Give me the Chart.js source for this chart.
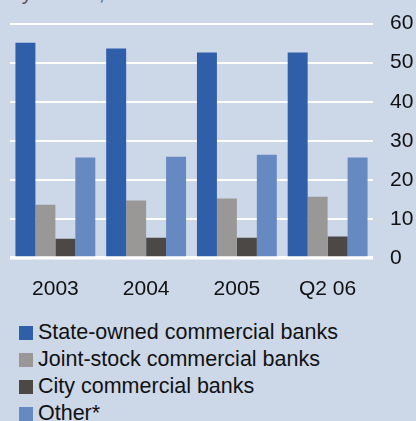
<!DOCTYPE html>
<html>
<head>
<meta charset="utf-8">
<script src="https://cdn.jsdelivr.net/npm/chart.js@4"></script>
<style>
    body { margin: 0; background: #ccd7e8; font-family: "Liberation Sans", Arial, sans-serif; overflow: hidden; }
    #wrap { position: relative; width: 416px; height: 421px; overflow: hidden; }
    #subtitle { position: absolute; left: 10px; top: -19px; font-size: 21px; color: #555; white-space: nowrap; }
    #chartBox { position: absolute; left: 0; top: -6px; width: 416px; height: 311px; }
    #legend { position: absolute; left: 19px; top: 319px; }
    .item { height: 27px; display: flex; align-items: center; font-size: 21.5px; color: #111; }
    .box { width: 14px; height: 14px; margin-right: 5px; }
</style>
</head>
<body>
<div id="wrap">
    <div id="subtitle">by assets, in % of total</div>
    <div id="chartBox"><canvas id="myBarChart"></canvas></div>
    <div id="legend"></div>
</div>
<script>
    // Datos
    const periods = ['2003', '2004', '2005', 'Q2 06'];
    const seriesNames = ['State-owned commercial banks', 'Joint-stock commercial banks', 'City commercial banks', 'Other*'];
    const stateOwned = [55.1, 53.6, 52.6, 52.6];
    const jointStock = [13.6, 14.7, 15.2, 15.7];
    const cityBanks = [4.9, 5.2, 5.2, 5.5];
    const other = [25.7, 25.9, 26.4, 25.7];
    const colors = ['#2f5fa9', '#999896', '#4c4846', '#6689c1'];

    const ctx = document.getElementById('myBarChart').getContext('2d');
    const allSeries = [stateOwned, jointStock, cityBanks, other];

    let myBarChart = new Chart(ctx, {
        type: 'bar',
        data: {
            labels: periods,
            datasets: allSeries.map((values, i) => ({
                label: seriesNames[i],
                data: values,
                backgroundColor: colors[i],
                borderWidth: 0,
                categoryPercentage: 0.88,
                barPercentage: 1.0
            }))
        },
        options: {
            responsive: true,
            maintainAspectRatio: false,
            animation: false,
            layout: {
                padding: { top: 4, left: 10, right: 0, bottom: 0 }
            },
            scales: {
                x: {
                    afterFit: (axis) => { axis.height = 47; },
                    grid: { display: false, drawTicks: false },
                    border: { display: false },
                    ticks: {
                        color: '#111',
                        padding: 19,
                        font: { family: '"Liberation Sans", Arial', size: 21 }
                    }
                },
                y: {
                    position: 'right',
                    min: 0,
                    max: 60,
                    afterFit: (axis) => { axis.width = 43; },
                    border: { display: false },
                    grid: {
                        color: '#ffffff',
                        lineWidth: (c) => c.tick && c.tick.value === 0 ? 3.5 : 2,
                        drawTicks: false
                    },
                    ticks: {
                        stepSize: 10,
                        color: '#111',
                        padding: 17,
                        font: { family: '"Liberation Sans", Arial', size: 21 }
                    }
                }
            },
            plugins: {
                legend: { display: false },
                tooltip: { enabled: false }
            }
        }
    });

    // Leyenda
    const legend = document.getElementById('legend');
    seriesNames.forEach((name, i) => {
        const row = document.createElement('div');
        row.className = 'item';
        const box = document.createElement('span');
        box.className = 'box';
        box.style.background = colors[i];
        row.appendChild(box);
        row.appendChild(document.createTextNode(name));
        legend.appendChild(row);
    });
</script>
</body>
</html>
